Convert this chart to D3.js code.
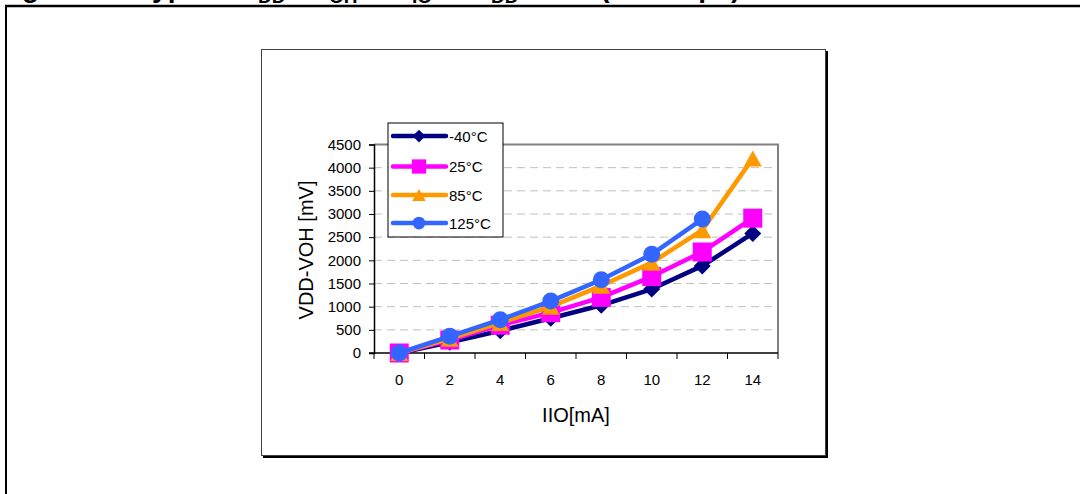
<!DOCTYPE html>
<html>
<head>
<meta charset="utf-8">
<script src="https://cdn.jsdelivr.net/npm/d3@7"></script>
<style>
  html, body { margin: 0; padding: 0; background: #fff; }
  svg { display: block; font-family: Arial, "Liberation Sans", sans-serif; }
</style>
</head>
<body>
<svg id="chart" width="1080" height="494"></svg>
<script>
// IIO [mA] categories
const currents = [0, 2, 4, 6, 8, 10, 12, 14];
const yTicks = [0, 500, 1000, 1500, 2000, 2500, 3000, 3500, 4000, 4500];

// VDD-VOH [mV] per temperature
const minus40 = [0, 230, 480, 750, 1030, 1380, 1880, 2580];
const t25 = [0, 280, 600, 870, 1200, 1650, 2180, 2910];
const t85 = [0, 310, 650, 1000, 1450, 1950, 2650, 4200];
const t125 = [0, 360, 720, 1120, 1580, 2130, 2890];

const seriesNames = ["-40°C", "25°C", "85°C", "125°C"];
const seriesColors = ["#000080", "#ff00ff", "#ff9900", "#3366ff"];
const seriesShapes = ["diamond", "square", "triangle", "circle"];
const seriesValues = [minus40, t25, t85, t125];

const svg = d3.select("#chart");

// page frame (table border of the datasheet)
svg.append("line").attr("x1", 5).attr("x2", 1080).attr("y1", 6).attr("y2", 6)
  .attr("stroke", "#000").attr("stroke-width", 2.5);
svg.append("line").attr("x1", 6).attr("x2", 6).attr("y1", 5).attr("y2", 494)
  .attr("stroke", "#000").attr("stroke-width", 2);

// title, mostly cut off at the top
const title = svg.append("text").attr("x", -3).attr("y", -3)
  .attr("font-size", 28).attr("font-weight", "bold").attr("fill", "#000");
title.append("tspan").text("Figure 27. Typical V");
title.append("tspan").attr("font-size", 19).attr("dy", 6).text("DD");
title.append("tspan").attr("dy", -6).text(" - V");
title.append("tspan").attr("font-size", 19).attr("dy", 6).text("OH");
title.append("tspan").attr("dy", -6).text(" vs I");
title.append("tspan").attr("font-size", 19).attr("dy", 6).text("IO");
title.append("tspan").attr("dy", -6).text(" at V");
title.append("tspan").attr("font-size", 19).attr("dy", 6).text("DD");
title.append("tspan").attr("dy", -6).text(" = 5 V (all temps)");

// chart area box with shadow
svg.append("rect").attr("x", 263).attr("y", 51).attr("width", 565).attr("height", 407)
  .attr("fill", "#000");
svg.append("rect").attr("x", 261.5).attr("y", 49.5).attr("width", 564).attr("height", 406)
  .attr("fill", "#fff").attr("stroke", "#404040").attr("stroke-width", 1);

const plot = { left: 374, right: 778, top: 144.5, bottom: 353 };

const x = d3.scaleBand().domain(currents).range([plot.left, plot.right]);
const y = d3.scaleLinear().domain([0, 4500]).range([plot.bottom, plot.top]);
const cx = d => x(d) + x.bandwidth() / 2;

// gridlines
svg.append("g").selectAll("line")
  .data(yTicks.filter(v => v > 0 && v < 4500))
  .join("line")
  .attr("x1", plot.left).attr("x2", plot.right)
  .attr("y1", d => y(d)).attr("y2", d => y(d))
  .attr("stroke", "#c0c0c0").attr("stroke-width", 1)
  .attr("stroke-dasharray", "8,5");

// plot border top and right
svg.append("path")
  .attr("d", `M${plot.left},${plot.top}H${plot.right}V${plot.bottom}`)
  .attr("fill", "none").attr("stroke", "#808080").attr("stroke-width", 2);

// y axis
const yAxis = svg.append("g").attr("transform", `translate(${plot.left},0)`)
  .call(d3.axisLeft(y).tickValues(yTicks).tickSize(5).tickPadding(8).tickFormat(d3.format("d")));
yAxis.select(".domain").attr("stroke", "#000").attr("stroke-width", 1.5);
yAxis.selectAll(".tick line").attr("stroke", "#000");
yAxis.selectAll("text").attr("font-size", 15).attr("fill", "#000")
  .attr("font-family", "Arial, 'Liberation Sans', sans-serif");

// x axis: labels centred in bands, tick marks on band edges
const xAxis = svg.append("g").attr("transform", `translate(0,${plot.bottom})`)
  .call(d3.axisBottom(x).tickSize(0).tickPadding(21));
xAxis.select(".domain").remove();
xAxis.selectAll("text").attr("font-size", 15).attr("fill", "#000")
  .attr("font-family", "Arial, 'Liberation Sans', sans-serif");
svg.append("line").attr("x1", plot.left - 5).attr("x2", plot.right)
  .attr("y1", plot.bottom).attr("y2", plot.bottom)
  .attr("stroke", "#000").attr("stroke-width", 1.5);
svg.append("g").selectAll("line")
  .data(currents.concat(["end"]))
  .join("line")
  .attr("x1", (d, i) => plot.left + i * x.step())
  .attr("x2", (d, i) => plot.left + i * x.step())
  .attr("y1", plot.bottom).attr("y2", plot.bottom + 6)
  .attr("stroke", "#000").attr("stroke-width", 1);

// axis titles
svg.append("text").attr("x", 576).attr("y", 422).attr("text-anchor", "middle")
  .attr("font-size", 20).text("IIO[mA]");
svg.append("text").attr("transform", "translate(313,250) rotate(-90)")
  .attr("text-anchor", "middle").attr("font-size", 20).text("VDD-VOH [mV]");

// marker shapes
function marker(sel, shape, color, k) {
  if (shape === "diamond") {
    const h = 8.5 * k;
    sel.append("path").attr("d", `M0,${-h}L${h},0L0,${h}L${-h},0Z`).attr("fill", color);
  } else if (shape === "square") {
    const s = 9.5 * k;
    sel.append("rect").attr("x", -s).attr("y", -s).attr("width", 2 * s).attr("height", 2 * s)
      .attr("fill", color);
  } else if (shape === "triangle") {
    const w = 9 * k, h = 8 * k;
    sel.append("path").attr("d", `M0,${-h}L${w},${h}L${-w},${h}Z`).attr("fill", color);
  } else {
    sel.append("circle").attr("r", 8.5 * k).attr("fill", color);
  }
}

const line = d3.line().x((d, i) => cx(currents[i])).y(d => y(d));

seriesValues.forEach((vals, si) => {
  const g = svg.append("g");
  g.append("path").datum(vals).attr("d", line)
    .attr("fill", "none").attr("stroke", seriesColors[si]).attr("stroke-width", 4.5)
    .attr("stroke-linejoin", "round");
  g.selectAll("g.pt").data(vals).join("g").attr("class", "pt")
    .attr("transform", (d, i) => `translate(${cx(currents[i])},${y(d)})`)
    .each(function () { marker(d3.select(this), seriesShapes[si], seriesColors[si], 1); });
});

// legend
const legend = svg.append("g");
legend.append("rect").attr("x", 388).attr("y", 123).attr("width", 115).attr("height", 114)
  .attr("fill", "#fff").attr("stroke", "#000").attr("stroke-width", 1);
const legendY = [136, 166.5, 195, 223];
seriesNames.forEach((name, si) => {
  const row = legend.append("g").attr("transform", `translate(0,${legendY[si]})`);
  row.append("line").attr("x1", 393).attr("x2", 446).attr("y1", 0).attr("y2", 0)
    .attr("stroke", seriesColors[si]).attr("stroke-width", 4.5).attr("stroke-linecap", "round");
  const m = row.append("g").attr("transform", "translate(419,0)");
  marker(m, seriesShapes[si], seriesColors[si], 0.75);
  row.append("text").attr("x", 449).attr("y", 5.5).attr("font-size", 15).text(name);
});
</script>
</body>
</html>
